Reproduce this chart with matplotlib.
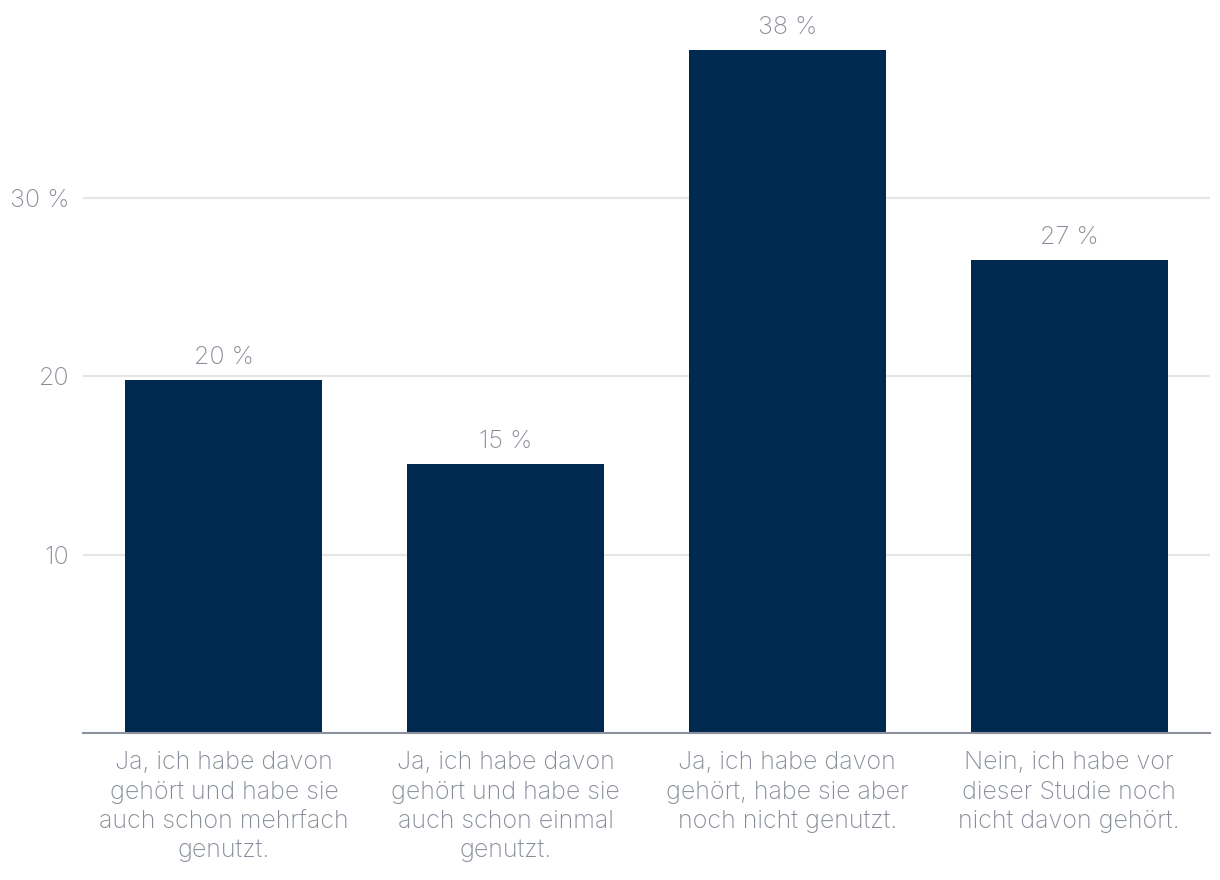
import matplotlib
matplotlib.use("Agg")
import matplotlib.pyplot as plt
import numpy as np

# Data
categories = ["Ja, ich habe davon\ngehört und habe sie\nauch schon mehrfach\ngenutzt.",
              "Ja, ich habe davon\ngehört und habe sie\nauch schon einmal\ngenutzt.",
              "Ja, ich habe davon\ngehört, habe sie aber\nnoch nicht genutzt.",
              "Nein, ich habe vor\ndieser Studie noch\nnicht davon gehört."]
values = [19.8, 15.1, 38.3, 26.5]
value_labels = ["20 %", "15 %", "38 %", "27 %"]
yticks = [10, 20, 30]
ytick_labels = ["10", "20", "30 %"]

# Style
plt.rcParams['font.family'] = ['Inter', 'Lato', 'DejaVu Sans']
bar_color = '#00294f'
text_color = '#878d98'
fs = 18

fig = plt.figure(figsize=(12.2, 8.8), dpi=100)
ax = fig.add_axes([83/1220, 1-733/880, 1127/1220, 713.3/880])

x = np.arange(len(categories))
bars = ax.bar(x, values, width=0.7, color=bar_color, zorder=3)

for xi, v, lab in zip(x, values, value_labels):
    ax.annotate(lab, (xi, v), xytext=(0, 8), textcoords='offset points',
                ha='center', va='bottom', fontsize=fs, color=text_color,
                fontweight='light')

ax.set_xlim(-0.5, len(categories)-0.5)
ax.set_ylim(0, 40)
ax.set_yticks(yticks)
ax.set_yticklabels(ytick_labels)
ax.set_xticks(x)
ax.set_xticklabels(categories, linespacing=1.36)

ax.grid(axis='y', color='#e6e6e6', lw=1.5, zorder=0)
for s in ['top', 'right', 'left']:
    ax.spines[s].set_visible(False)
ax.spines['bottom'].set_color('#8c929c')
ax.spines['bottom'].set_linewidth(1.5)
ax.spines['bottom'].set_zorder(4)

ax.tick_params(axis='both', length=0, labelsize=fs, labelcolor=text_color)
ax.tick_params(axis='y', pad=10)
ax.tick_params(axis='x', pad=13)
for t in ax.get_xticklabels() + ax.get_yticklabels():
    t.set_fontweight('light')

fig.savefig("out.png", dpi=100)
